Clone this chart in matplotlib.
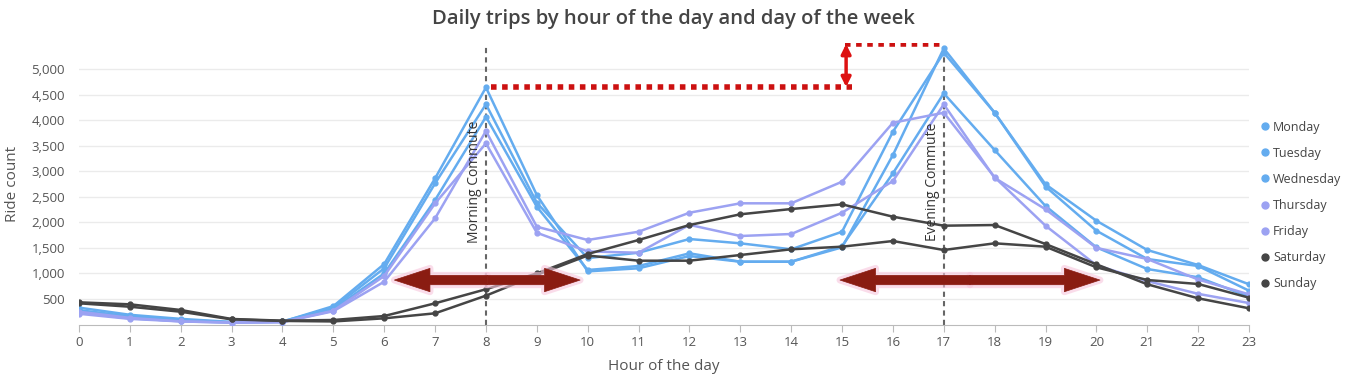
import matplotlib
matplotlib.use("Agg")
import matplotlib.pyplot as plt
from matplotlib.lines import Line2D
from matplotlib.patches import FancyArrowPatch

plt.rcParams["font.family"] = ["Open Sans", "DejaVu Sans"]

hours = list(range(24))
days = ["Monday", "Tuesday", "Wednesday", "Thursday", "Friday", "Saturday", "Sunday"]

monday = [230, 120, 70, 40, 50, 300, 1000, 2436, 4065, 2305, 1067, 1145, 1393, 1229,
          1229, 1536, 2959, 4524, 3415, 2319, 1510, 1086, 924, 545]
tuesday = [280, 160, 90, 45, 55, 360, 1184, 2861, 4640, 2534, 1040, 1100, 1340, 1229,
           1229, 1510, 3317, 5405, 4145, 2744, 2031, 1458, 1164, 787]
wednesday = [330, 190, 110, 50, 60, 330, 1100, 2763, 4310, 2384, 1300, 1405, 1673, 1589,
             1472, 1816, 3773, 5319, 4145, 2700, 1836, 1282, 1145, 662]
thursday = [250, 130, 60, 40, 50, 270, 949, 2371, 3546, 1796, 1430, 1405, 1950, 1732,
            1771, 2188, 2808, 4309, 2870, 2255, 1500, 1282, 880, 590]
friday = [210, 110, 60, 35, 45, 260, 838, 2078, 3787, 1914, 1654, 1816, 2188, 2372,
          2372, 2795, 3949, 4145, 2881, 1934, 1160, 850, 600, 420]
saturday = [434, 395, 284, 108, 75, 88, 166, 415, 690, 1000, 1380, 1654, 1947, 2157,
            2260, 2352, 2110, 1934, 1947, 1575, 1178, 787, 513, 317]
sunday = [415, 348, 250, 100, 70, 60, 121, 219, 565, 970, 1350, 1249, 1249, 1360,
          1472, 1523, 1634, 1458, 1589, 1523, 1119, 871, 793, 525]

series = [monday, tuesday, wednesday, thursday, friday, saturday, sunday]
colors = ["#64acef", "#64acef", "#64acef", "#9ca2f2", "#9ca2f2", "#454545", "#454545"]

# annotation positions (data coords)
morning_hour, evening_hour = 8, 17
gap_low, gap_high = 4648, 5490
arrow_y = 870
arrow_spans = [(6.2, 9.85), (14.96, 20.07)]

fig = plt.figure(figsize=(13.47, 3.76), dpi=100)
ax = fig.add_axes([79 / 1347, 1 - 324.5 / 376, (1249 - 79) / 1347, (324.5 - 43.5) / 376])

for vals, col in zip(series, colors):
    ax.plot(hours, vals, color=col, lw=1.8, marker="o", ms=3.5, zorder=3)

ax.set_xlim(0, 23)
ax.set_ylim(0, 5500)
ax.set_xticks(hours)
ax.set_yticks(range(500, 5001, 500))
ax.set_yticklabels([f"{v:,}" for v in range(500, 5001, 500)])
ax.grid(axis="y", color="#ebebeb", lw=1)
ax.set_axisbelow(True)
for s in ["top", "right", "left"]:
    ax.spines[s].set_visible(False)
ax.spines["bottom"].set_color("#bbbbbb")
ax.tick_params(axis="x", colors="#555555", labelsize=9.5, length=5, color="#bbbbbb")
ax.tick_params(axis="y", colors="#555555", labelsize=9.5, length=0, pad=10)
ax.set_xlabel("Hour of the day", fontsize=11, color="#555555", labelpad=7)
ax.set_ylabel("Ride count", fontsize=11, color="#555555", labelpad=8)
fig.suptitle("Daily trips by hour of the day and day of the week", x=0.5, y=0.975,
             fontsize=14.5, color="#444444", fontweight="semibold")

# commute markers
for h, label in [(morning_hour, "Morning Commute"), (evening_hour, "Evening Commute")]:
    ax.plot([h, h], [0, 5450], color="#666666", lw=1.5, ls=(0, (2.5, 2)), zorder=2)
    ax.text(h - 0.08, 2800, label, rotation=90, ha="right", va="center",
            fontsize=10, color="#333333", zorder=4)

# red dotted gap lines + arrow
ax.plot([8.1, 15.2], [gap_low, gap_low], color="#cc1111", lw=4, ls=(0, (1, 1)), zorder=5)
ax.plot([15.05, 17.0], [gap_high, gap_high], color="#cc1111", lw=4, ls=(0, (1, 1)), zorder=5)
ax.annotate("", xy=(15.08, gap_high), xytext=(15.08, gap_low),
            arrowprops=dict(arrowstyle="<|-|>", color="#dd1111", lw=2.5,
                            mutation_scale=14, shrinkA=0, shrinkB=0), zorder=5)

# dark red double arrows, drawn as two single arrows from the middle outward
style = "simple,head_length=1.6,head_width=1.05,tail_width=0.42"
for x0, x1 in arrow_spans:
    mid = (x0 + x1) / 2
    for end in (x0, x1):
        ax.add_patch(FancyArrowPatch((mid, arrow_y), (end, arrow_y), arrowstyle=style,
                                     mutation_scale=16, fc="#f7c6dc", ec="#f7c6dc",
                                     lw=5, alpha=0.6, shrinkA=0, shrinkB=0, zorder=5))
    for end in (x0, x1):
        ax.add_patch(FancyArrowPatch((mid, arrow_y), (end, arrow_y), arrowstyle=style,
                                     mutation_scale=16, fc="#8a1c12", ec="#8a1c12",
                                     lw=0.5, shrinkA=0, shrinkB=0, zorder=6))

handles = [Line2D([], [], color=c, marker="o", ls="none", ms=5) for c in colors]
fig.legend(handles, days, loc="upper left", bbox_to_anchor=(1256 / 1347, 1 - 118 / 376),
           frameon=False, fontsize=9, handletextpad=0.05, labelspacing=1.05,
           handlelength=1.1, labelcolor="#444444", borderaxespad=0, borderpad=0.2)

fig.savefig("out.png", dpi=100)
